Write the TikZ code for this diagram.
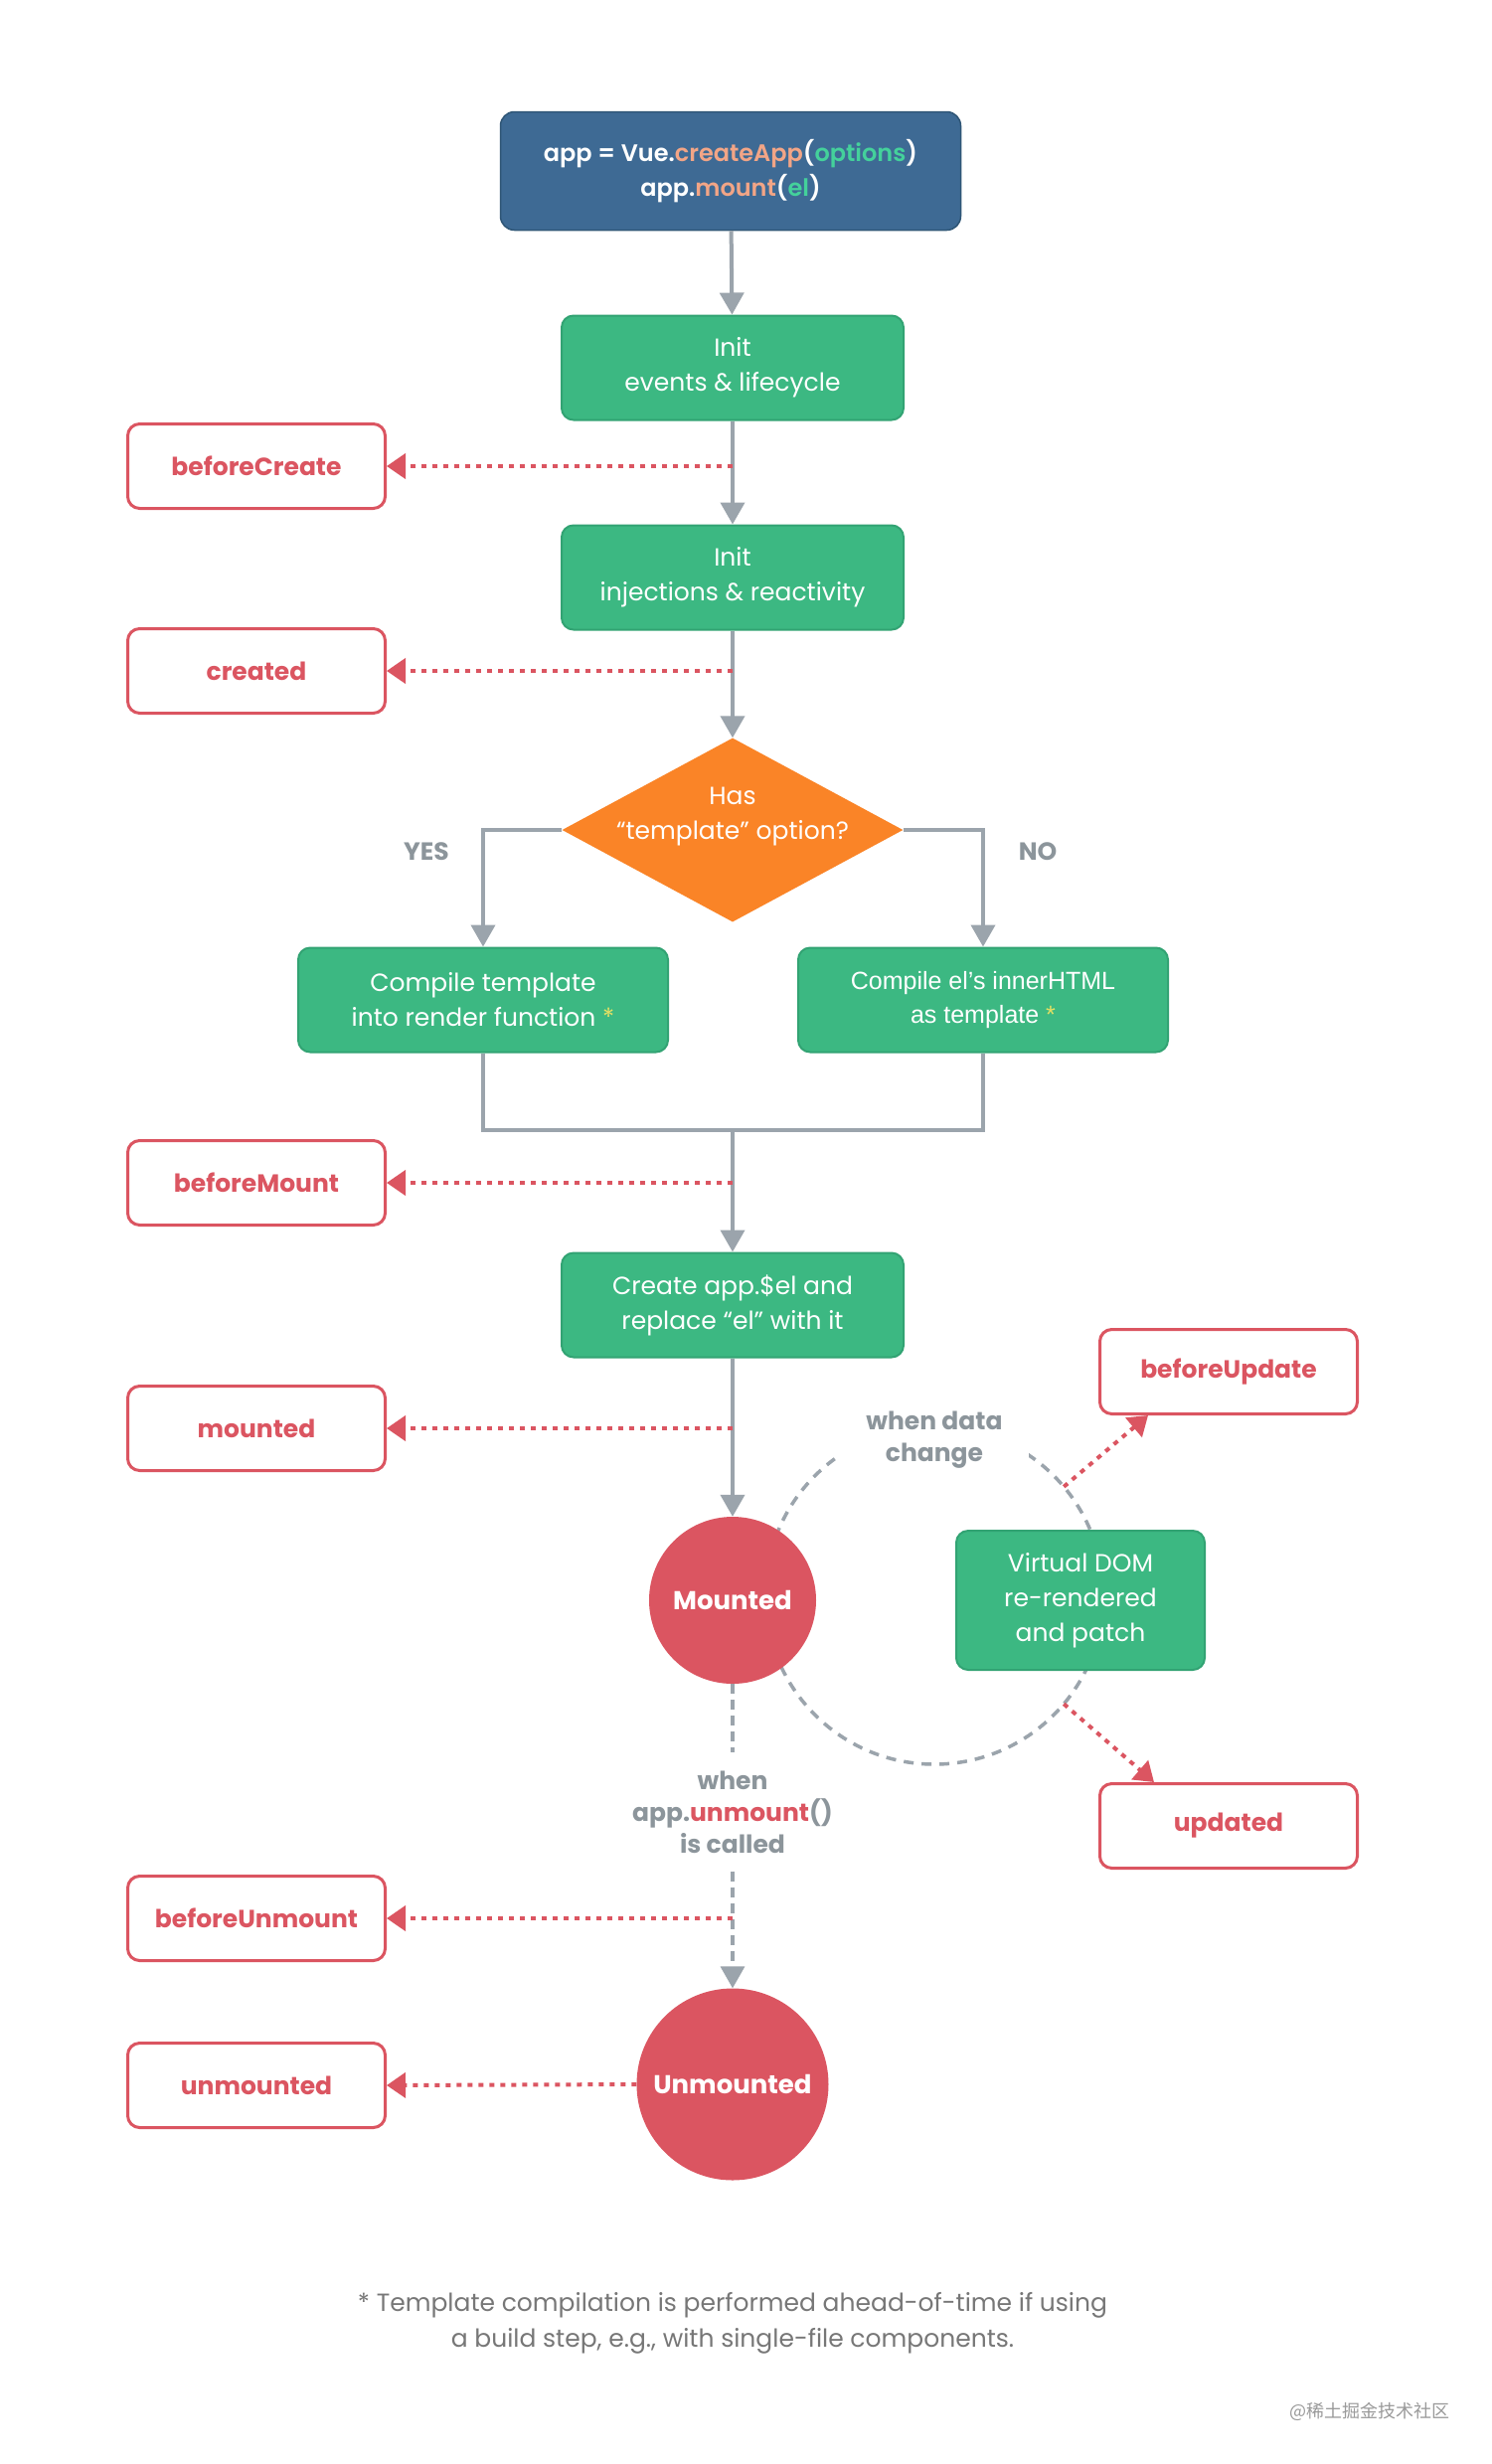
\documentclass[tikz,border=0pt]{standalone}
\usepackage{fontspec}
\setmainfont{Poppins}
\newfontfamily\semifont{Poppins}[UprightFont={* SemiBold}]
\newfontfamily\arialfont{Liberation Sans}
\newfontfamily\cjkfont{Noto Sans CJK SC}
\usetikzlibrary{arrows.meta, shapes.geometric, calc}

\definecolor{vueblue}{HTML}{3E6A94}
\definecolor{vueblueline}{HTML}{2F5676}
\definecolor{vuegreen}{HTML}{3CB882}
\definecolor{vuegreenline}{HTML}{32A373}
\definecolor{vueorange}{HTML}{FA8427}
\definecolor{vuered}{HTML}{DB5561}
\definecolor{flowgray}{HTML}{9BA4AC}
\definecolor{labelgray}{HTML}{8C959B}
\definecolor{fngray}{HTML}{777777}
\definecolor{wmgray}{HTML}{9A9A9A}
\definecolor{salmon}{HTML}{F2A586}
\definecolor{mint}{HTML}{44D19B}
\definecolor{star}{HTML}{E5E063}

\tikzset{
  startbox/.style={draw=vueblueline, line width=1.5pt, fill=vueblue, rounded corners=14pt,
    minimum width=463pt, minimum height=119pt, align=center, text=white,
    font=\semifont\fontsize{24}{35}\selectfont},
  stepgreen/.style={draw=vuegreenline, line width=2pt, fill=vuegreen, rounded corners=12pt,
    minimum height=105pt, align=center, text=white, font=\fontsize{25}{35}\selectfont},
  decision/.style={diamond, fill=vueorange, minimum width=343pt, minimum height=185pt, inner sep=0pt},
  hook/.style={draw=vuered, line width=3pt, fill=white, rounded corners=12pt,
    minimum width=259pt, minimum height=85pt, text=vuered, font=\bfseries\fontsize{25}{28}\selectfont},
  state/.style={circle, fill=vuered, inner sep=0pt, text=white, font=\bfseries\fontsize{26}{28}\selectfont},
  answer/.style={text=labelgray, font=\bfseries\fontsize{25}{28}\selectfont},
  note/.style={align=center, text=labelgray, font=\bfseries\fontsize{25}{32}\selectfont},
  flow/.style={draw=flowgray, line width=4pt, -{Triangle[width=24pt,length=22pt]}},
  flowline/.style={draw=flowgray, line width=4pt},
  dashline/.style={draw=flowgray, line width=3.5pt, dash pattern=on 10pt off 6pt},
  cyclepath/.style={draw=flowgray, line width=3.5pt, dash pattern=on 10pt off 8pt},
  hookarrow/.style={draw=vuered, line width=4pt, dash pattern=on 5pt off 6pt,
    -{Triangle[width=25pt,length=19pt]}},
}

\begin{document}
\begin{tikzpicture}[x=1pt, y=-1pt]
  \fill[white] (0,0) rectangle (1500,2479);
  \useasboundingbox (0,0) rectangle (1500,2479);

  % update loop, behind the nodes
  \coordinate (cyc) at (940,1605);
  \draw[cyclepath] (cyc) circle[radius=170];
  \coordinate (cycA) at ($(cyc)+(320:170)$);
  \coordinate (cycB) at ($(cyc)+(40:170)$);

  % main flow
  \node[startbox] (app) at (735,172) {app = Vue.{\color{salmon}createApp}({\color{mint}options})\\app.{\color{salmon}mount}({\color{mint}el})};
  \node[stepgreen, minimum width=344pt] (ev) at (737,370) {Init\\events \& lifecycle};
  \node[stepgreen, minimum width=344pt] (inj) at (737,581) {Init\\injections \& reactivity};
  \node[decision] (has) at (737,835) {};
  \node[align=center, text=white, font=\fontsize{25}{35}\selectfont] at (737,822) {Has\\“template” option?};
  \node[answer] at (429,857) {YES};
  \node[answer] at (1044,857) {NO};
  \node[stepgreen, minimum width=372pt] (tpl) at (486,1006) {Compile template\\into render function {\color{star}*}};
  \node[stepgreen, minimum width=372pt, font=\arialfont\fontsize{25}{34}\selectfont] (elh) at (989,1006) {Compile el’s innerHTML\\as template {\color{star}*}};
  \coordinate (merge) at (737,1137);
  \node[stepgreen, minimum width=344pt] (mk) at (737,1313) {Create app.\$el and\\replace “el” with it};
  \node[state, minimum size=168pt] (mnt) at (737,1610) {Mounted};
  \node[stepgreen, minimum width=250pt, minimum height=140pt] (vdom) at (1087,1610) {Virtual DOM\\re-rendered\\and patch};
  \node[note, fill=white, minimum width=190pt] (dc) at (940,1449) {when data\\change};
  \node[note, inner sep=18pt] (unmt) at (737,1823) {when\\app.{\color{vuered}unmount}()\\is called};
  \node[state, minimum size=193pt] (unm) at (737,2097) {Unmounted};

  % hooks
  \node[hook] (bc) at (258,469) {beforeCreate};
  \node[hook] (cr) at (258,675) {created};
  \node[hook] (bm) at (258,1190) {beforeMount};
  \node[hook] (md) at (258,1437) {mounted};
  \node[hook] (bu) at (1236,1380) {beforeUpdate};
  \node[hook] (ud) at (1236,1837) {updated};
  \node[hook] (bum) at (258,1930) {beforeUnmount};
  \node[hook] (um) at (258,2098) {unmounted};

  \draw[flow] (app) -- (ev);
  \draw[flow] (ev) -- (inj);
  \draw[flow] (inj) -- (has);
  \draw[flow] (has.west) -| (tpl.north);
  \draw[flow] (has.east) -| (elh.north);
  \draw[flowline] (tpl.south) |- (merge) -| (elh.south);
  \draw[flow] (merge) -- (mk);
  \draw[flow] (mk) -- (mnt);
  \draw[dashline] (mnt) -- (unmt);
  \draw[dashline, -{Triangle[width=24pt,length=22pt]}] (unmt) -- (unm);

  \draw[hookarrow] (ev |- bc.east) -- (bc.east);
  \draw[hookarrow] (inj |- cr.east) -- (cr.east);
  \draw[hookarrow] (mk |- bm.east) -- (bm.east);
  \draw[hookarrow] (mk |- md.east) -- (md.east);
  \draw[hookarrow] (cycA) -- ([xshift=50pt]bu.south west);
  \draw[hookarrow] (cycB) -- ([xshift=56pt]ud.north west);
  \draw[hookarrow] (unm |- bum.east) -- (bum.east);
  \draw[hookarrow] (unm.west) -- (um.east);

  % footnote
  \node[align=center, text=fngray, font=\fontsize{25}{36}\selectfont] (fn) at (737,2337) {* Template compilation is performed ahead-of-time if using\\a build step, e.g., with single-file components.};
  \node[anchor=east, text=wmgray, font=\cjkfont\fontsize{18}{20}\selectfont] (wm) at (1462,2426) {@稀土掘金技术社区};
\end{tikzpicture}
\end{document}
